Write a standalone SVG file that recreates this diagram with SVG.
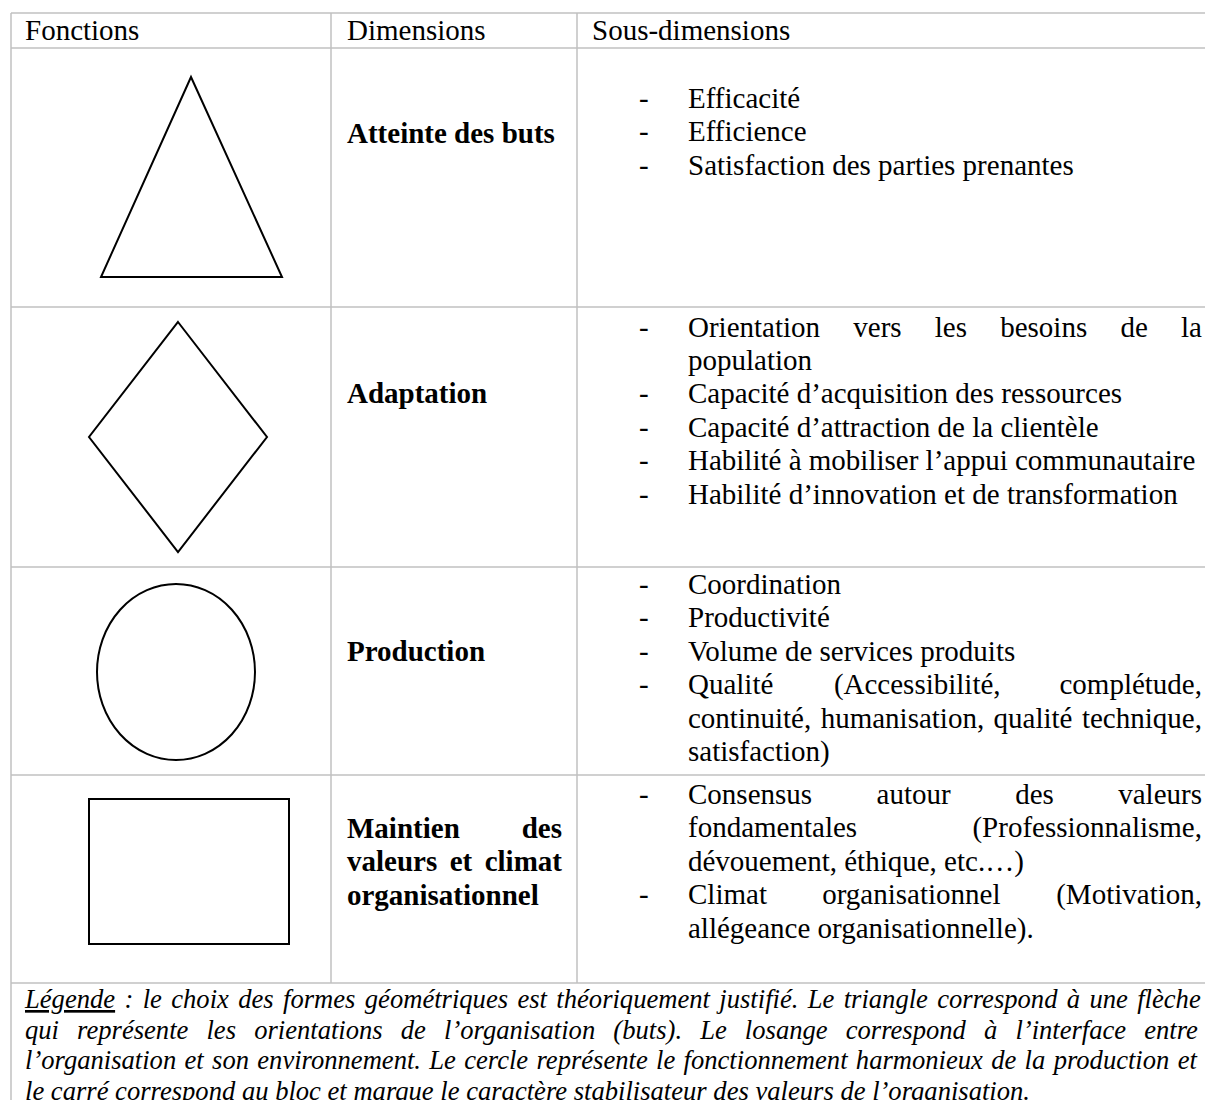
<svg xmlns="http://www.w3.org/2000/svg" width="1205" height="1100" viewBox="0 0 1205 1100">
<style>
.g{stroke:#c0c0c0;stroke-width:1.5;fill:none}
.s{stroke:#000;stroke-width:2;fill:none}
text{font-family:"Liberation Serif","Times New Roman",serif;font-size:29px;fill:#000}
.b{font-weight:bold}
.i{font-style:italic;font-size:26.6px}
.e{text-anchor:end}
</style>
<rect x="0" y="0" width="1205" height="1100" fill="#fff"/>
<g id="grid">
<line class="g" x1="11" y1="13" x2="1205" y2="13"/>
<line class="g" x1="11" y1="48" x2="1205" y2="48"/>
<line class="g" x1="11" y1="307" x2="1205" y2="307"/>
<line class="g" x1="11" y1="567" x2="1205" y2="567"/>
<line class="g" x1="11" y1="775" x2="1205" y2="775"/>
<line class="g" x1="11" y1="983" x2="1205" y2="983"/>
<line class="g" x1="11" y1="13" x2="11" y2="1100"/>
<line class="g" x1="331" y1="13" x2="331" y2="983"/>
<line class="g" x1="577" y1="13" x2="577" y2="983"/>
</g>
<g id="header">
<text x="25" y="40">Fonctions</text>
<text x="347" y="40">Dimensions</text>
<text x="592" y="40">Sous-dimensions</text>
</g>
<g id="row-buts">
<polygon class="s" points="191,77 282,277 101,277"/>
<text class="b" x="347" y="143">Atteinte des buts</text>
<text x="639" y="108">-</text><text x="688" y="108">Efficacité</text>
<text x="639" y="141.4">-</text><text x="688" y="141.4">Efficience</text>
<text x="639" y="174.8">-</text><text x="688" y="174.8">Satisfaction des parties prenantes</text>
</g>
<g id="row-adaptation">
<polygon class="s" points="178,322 267,437 178,552 89,437"/>
<text class="b" x="347" y="403.3">Adaptation</text>
<text x="639" y="336.5">-</text>
<text y="336.5"><tspan x="688">Orientation</tspan><tspan x="853.3">vers</tspan><tspan x="934.8">les</tspan><tspan x="1000.2">besoins</tspan><tspan x="1120.4">de</tspan></text>
<text class="e" x="1202" y="336.5">la</text>
<text x="688" y="369.9">population</text>
<text x="639" y="403.3">-</text><text x="688" y="403.3">Capacité d’acquisition des ressources</text>
<text x="639" y="436.7">-</text><text x="688" y="436.7">Capacité d’attraction de la clientèle</text>
<text x="639" y="470.1">-</text><text x="688" y="470.1">Habilité à mobiliser l’appui communautaire</text>
<text x="639" y="503.5">-</text><text x="688" y="503.5">Habilité d’innovation et de transformation</text>
</g>
<g id="row-production">
<ellipse class="s" cx="176" cy="672" rx="79" ry="88"/>
<text class="b" x="347" y="661">Production</text>
<text x="639" y="594">-</text><text x="688" y="594">Coordination</text>
<text x="639" y="627.4">-</text><text x="688" y="627.4">Productivité</text>
<text x="639" y="660.8">-</text><text x="688" y="660.8">Volume de services produits</text>
<text x="639" y="694.2">-</text>
<text y="694.2"><tspan x="688">Qualité</tspan><tspan x="833.9">(Accessibilité,</tspan></text>
<text class="e" x="1202" y="694.2">complétude,</text>
<text x="688" y="727.6" word-spacing="2.17">continuité, humanisation, qualité technique,</text>
<text x="688" y="761">satisfaction)</text>
</g>
<g id="row-maintien">
<rect class="s" x="89" y="799" width="200" height="145"/>
<text class="b" x="347" y="838">Maintien</text>
<text class="b e" x="562" y="838">des</text>
<text class="b" x="347" y="871.4" word-spacing="5.2">valeurs et climat</text>
<text class="b" x="347" y="904.8">organisationnel</text>
<text x="639" y="804">-</text>
<text y="804"><tspan x="688">Consensus</tspan><tspan x="876.6">autour</tspan><tspan x="1015.2">des</tspan></text>
<text class="e" x="1202" y="804">valeurs</text>
<text x="688" y="837.4">fondamentales</text>
<text class="e" x="1202" y="837.4">(Professionnalisme,</text>
<text x="688" y="870.8">dévouement, éthique, etc.…)</text>
<text x="639" y="904.2">-</text>
<text y="904.2"><tspan x="688">Climat</tspan><tspan x="822.2">organisationnel</tspan></text>
<text class="e" x="1202" y="904.2">(Motivation,</text>
<text x="688" y="937.6">allégeance organisationnelle).</text>
</g>
<g id="legend">
<text class="i" x="25" y="1008" word-spacing="2.72"><tspan text-decoration="underline">Légende</tspan> : le choix des formes géométriques est théoriquement justifié. Le triangle correspond à une flèche</text>
<text class="i" x="25" y="1038.5" word-spacing="11.47">qui représente les orientations de l’organisation (buts). Le losange correspond à l’interface entre</text>
<text class="i" x="25" y="1069" word-spacing="1.67">l’organisation et son environnement. Le cercle représente le fonctionnement harmonieux de la production et</text>
<text class="i" x="25" y="1099.5">le carré correspond au bloc et marque le caractère stabilisateur des valeurs de l’organisation.</text>
</g>
</svg>
